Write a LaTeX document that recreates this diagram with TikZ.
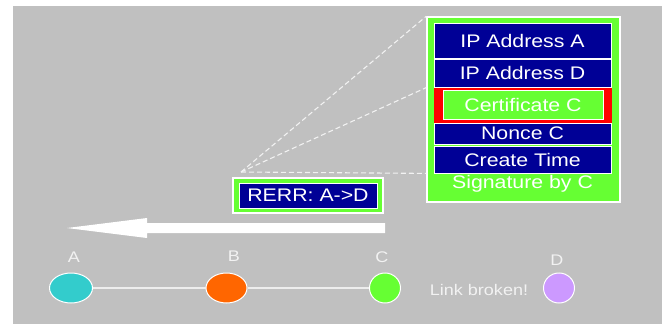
\documentclass[tikz,border=0pt]{standalone}
\usepackage{fontspec}
\setmainfont{Liberation Sans}[FakeStretch=1.17]
\usetikzlibrary{shapes.geometric}

\definecolor{bggray}{HTML}{C0C0C0}
\definecolor{navy}{RGB}{0,0,150}
\definecolor{pgreen}{HTML}{66FF33}
\definecolor{hostA}{HTML}{33CCCC}
\definecolor{hostB}{HTML}{FF6600}
\definecolor{hostD}{HTML}{CC99FF}
\definecolor{soft}{HTML}{F2F2F2}

\newcommand\fieldfont{\fontsize{18.2}{20}\selectfont}
\newcommand\namefont{\fontsize{15.4}{17}\selectfont}

\tikzset{
  frame/.style={draw=white, line width=1.5pt, fill=pgreen, inner sep=0pt},
  field/.style={draw=white, line width=0.8pt, fill=navy, text=white,
    minimum width=177pt, inner sep=0pt, font=\fieldfont},
  host/.style={ellipse, draw=white, line width=1pt, inner sep=0pt, minimum height=30pt},
  hostname/.style={text=soft, font=\namefont, inner sep=0pt},
  zoomline/.style={draw=soft, line width=1.1pt, dash pattern=on 5pt off 3pt},
  link/.style={draw=soft!90!bggray, line width=1.2pt},
}

\begin{document}
\begin{tikzpicture}[x=1pt, y=-1pt]
  % 1. Background
  \useasboundingbox (0,0) rectangle (662,324);
  \fill[bggray] (13,6) rectangle (662,324);

  % 2. The RERR packet
  \node[frame, minimum width=150pt, minimum height=35pt] (rerr) at (308,195.5) {};
  \node[field, minimum width=138pt, minimum height=25pt] (rerrin) at (rerr) {RERR: A->D};

  % 3. The packet contents (zoomed)
  \node[frame, minimum width=193pt, minimum height=185pt] (pkt) at (523.5,109.5) {};
  \node[field, minimum height=35pt] (ipa) at (522.5,40.5) {IP Address A};
  \node[field, minimum height=28pt] (ipd) at (522.5,73) {IP Address D};
  \node[field, fill=red, draw=red, minimum height=34pt] (cert) at (522.5,105) {};
  \node[field, fill=pgreen, minimum width=160pt, minimum height=29pt] (certin) at (523,104.5) {Certificate C};
  \node[field, minimum height=21pt] (nonce) at (522.5,133.5) {Nonce C};
  \node[field, minimum height=27pt] (ctime) at (522.5,159.5) {Create Time};
  \node[text=white, font=\fieldfont, inner sep=0pt] (sig) at (522.5,184) {Signature by C};

  % 4. Zoom lines from the RERR packet
  \coordinate (apex) at (241,172);
  \draw[zoomline] (apex) -- (pkt.north west);
  \draw[zoomline] (apex) -- (pkt.west |- cert.north);
  \draw[zoomline] (apex) -- (pkt.west |- ctime.south);

  % 5. Direction of the RERR
  \coordinate (tip) at (67,228);
  \fill[white] (tip) -- ++(80,-10) -- ++(0,5) -- ++(238,0) -- ++(0,10)
    -- ++(-238,0) -- ++(0,5) -- cycle;

  % 6. The hosts
  \node[host, fill=hostA, minimum width=43pt] (A) at (71,288) {};
  \node[host, fill=hostB, minimum width=41pt] (B) at (226.5,288) {};
  \node[host, fill=pgreen, minimum width=31pt] (C) at (385,288) {};
  \node[host, fill=hostD, minimum width=31pt] (D) at (559,288) {};
  \draw[link] (A) -- (B) -- (C);

  % 7. Labeling
  \node[hostname] (labA) at (74,257) {A};
  \node[hostname] (labB) at (234,256) {B};
  \node[hostname] (labC) at (382,257) {C};
  \node[hostname] (labD) at (557,260) {D};
  \node[hostname] (broken) at (479,290) {Link broken!};
\end{tikzpicture}
\end{document}
